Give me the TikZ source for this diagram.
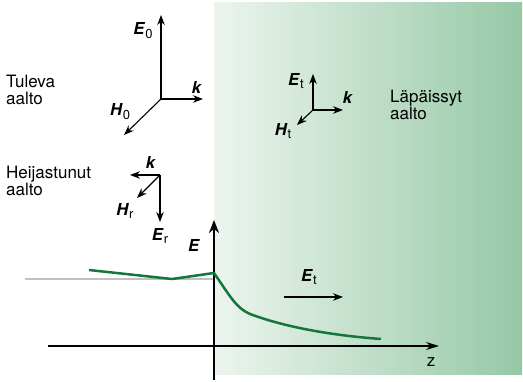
\documentclass[tikz,border=0pt]{standalone}
\usepackage{fontspec}
\setmainfont{TeX Gyre Heros}
\usetikzlibrary{arrows.meta}

\definecolor{mediumleft}{RGB}{236,245,238}
\definecolor{mediumright}{RGB}{150,200,166}
\definecolor{curvegreen}{RGB}{20,118,58}
\definecolor{levelgrey}{RGB}{192,192,192}

\newcommand{\vlab}[2]{\textbf{\textit{#1}}\raisebox{-0.45ex}{\fontsize{13}{13}\selectfont #2}}

\tikzset{
  vec/.style={line width=1.1pt,-{Stealth[length=10pt,width=7.5pt]}},
  axis/.style={line width=2.2pt,-{Stealth[length=13pt,width=10pt]}},
  lab/.style={font=\fontsize{16.5}{16.5}\selectfont,inner sep=0pt},
  txt/.style={font=\fontsize{17}{17}\selectfont,align=left,anchor=north west,inner sep=0pt}
}

\begin{document}
\begin{tikzpicture}[x=1pt,y=-1pt]
  \useasboundingbox (0,0) rectangle (523,382);
  % medium on the right
  \shade[left color=mediumleft,right color=mediumright] (214,3) rectangle (522,375);

  % incident wave
  \coordinate (o0) at (161,99);
  \coordinate (e0) at (161,15);
  \coordinate (k0) at (203,99);
  \coordinate (h0) at (124,135);
  \draw[vec] (o0) -- (e0);
  \draw[vec] (o0) -- (k0);
  \draw[vec] (o0) -- (h0);
  \node[lab] (le0) at (143,31) {\vlab{E}{0}};
  \node[lab] (lk0) at (197,87) {\textbf{\textit{k}}};
  \node[lab] (lh0) at (120,112) {\vlab{H}{0}};
  \node[txt] (tul) at (6,74.5) {Tuleva\\aalto};

  % reflected wave
  \coordinate (or) at (160,175);
  \coordinate (kr) at (130,175);
  \coordinate (hr) at (137,198);
  \coordinate (er) at (160,222);
  \draw[vec] (or) -- (kr);
  \draw[vec] (or) -- (hr);
  \draw[vec] (or) -- (er);
  \node[lab] (lkr) at (151,162) {\textbf{\textit{k}}};
  \node[lab] (lhr) at (125,211) {\vlab{H}{r}};
  \node[lab] (ler) at (160,236) {\vlab{E}{r}};
  \node[txt] (hei) at (6,165.5) {Heijastunut\\aalto};

  % transmitted wave
  \coordinate (ot) at (313,110);
  \coordinate (et) at (313,74);
  \coordinate (kt) at (343,110);
  \coordinate (ht) at (297,125);
  \draw[vec] (ot) -- (et);
  \draw[vec] (ot) -- (kt);
  \draw[vec] (ot) -- (ht);
  \node[lab] (let) at (296,81) {\vlab{E}{t}};
  \node[lab] (lkt) at (348,97) {\textbf{\textit{k}}};
  \node[lab] (lht) at (283,131) {\vlab{H}{t}};
  \node[txt] (lap) at (390,89.5) {Läpäissyt\\aalto};

  % field amplitude
  \coordinate (g1) at (25,279);
  \coordinate (g2) at (214,279);
  \draw[levelgrey,line width=1.8pt] (g1) -- (g2);
  \coordinate (zs) at (48,346);
  \coordinate (ze) at (439,346);
  \draw[line width=1.2pt,-{Stealth[length=13pt,width=8pt]}] (zs) -- (ze);
  \node[font=\fontsize{17}{17}\selectfont,inner sep=0pt] (lz) at (431,362) {z};
  \coordinate (es) at (214,380);
  \coordinate (ee) at (214,220);
  \draw[axis] (es) -- (ee);
  \node[lab] (le) at (194,245) {\textbf{\textit{E}}};
  \draw[curvegreen,line width=2.5pt,line join=round]
    (89,270) -- (172,279) -- (214,273)
    .. controls (230,296) and (236,308) .. (250,314)
    .. controls (290,329) and (340,336) .. (381,339);
  \coordinate (ets) at (284,297);
  \coordinate (ete) at (343,297);
  \draw[vec] (ets) -- (ete);
  \node[lab] (lett) at (309,277) {\vlab{E}{t}};
\end{tikzpicture}
\end{document}
